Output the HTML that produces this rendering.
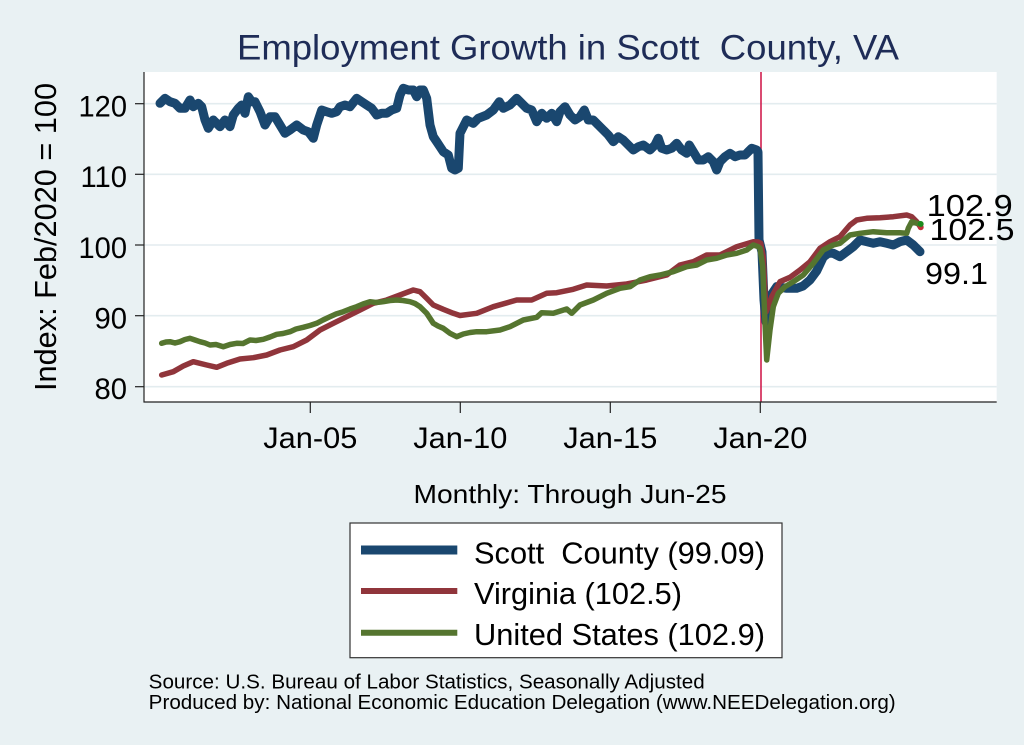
<!DOCTYPE html>
<html>
<head>
<meta charset="utf-8">
<style>
  html, body { margin: 0; padding: 0; background: #E9F1F3; }
  svg { display: block; }
  text { font-family: "Liberation Sans", Arial, sans-serif; }
</style>
</head>
<body>
<svg width="1024" height="745" viewBox="0 0 1024 745" xmlns="http://www.w3.org/2000/svg">
  <!-- outer background -->
  <rect x="0" y="0" width="1024" height="745" fill="#E9F1F3"/>
  <!-- plot region -->
  <rect x="144" y="72" width="852.7" height="330" fill="#FFFFFF"/>

  <!-- gridlines -->
  <g stroke="#E3ECEF" stroke-width="1.6">
    <line x1="144" y1="103.7" x2="996.7" y2="103.7"/>
    <line x1="144" y1="174.3" x2="996.7" y2="174.3"/>
    <line x1="144" y1="245" x2="996.7" y2="245"/>
    <line x1="144" y1="315.7" x2="996.7" y2="315.7"/>
    <line x1="144" y1="386.7" x2="996.7" y2="386.7"/>
  </g>

  <!-- vertical reference line -->
  <line x1="761" y1="72" x2="761" y2="402" stroke="#D11E4E" stroke-width="1.6"/>

  <!-- axes -->
  <g stroke="#222" stroke-width="1.2">
    <line x1="144" y1="72" x2="144" y2="402.5"/>
    <line x1="143.5" y1="402" x2="996.7" y2="402"/>
    <line x1="135" y1="103.7" x2="144" y2="103.7"/>
    <line x1="135" y1="174.3" x2="144" y2="174.3"/>
    <line x1="135" y1="245" x2="144" y2="245"/>
    <line x1="135" y1="315.7" x2="144" y2="315.7"/>
    <line x1="135" y1="386.7" x2="144" y2="386.7"/>
    <line x1="310.3" y1="402" x2="310.3" y2="413"/>
    <line x1="460.3" y1="402" x2="460.3" y2="413"/>
    <line x1="610.3" y1="402" x2="610.3" y2="413"/>
    <line x1="760.3" y1="402" x2="760.3" y2="413"/>
  </g>

  <!-- Scott County (blue) -->
  <polyline fill="none" stroke="#1A476F" stroke-width="9" stroke-linejoin="round" stroke-linecap="round"
    points="160,103.3 165,98.3 170,101.7 175,103.3 180,108.3 185,108.3 190,100 193.3,106.7 198.3,103.3 201.7,106.7 205,120 208.3,128.3 213.3,120 220,126.7 225,120 230,126.7 233.3,115 238.3,108.3 241.7,105 245,113.3 248.3,96.7 251.7,101.7 255,101.7 260,111.7 265,125 270,116.7 275,116.7 280,125 285,133.3 290,130 296.7,125 303.3,130 308.3,131.7 313.3,138.3 316.7,125 321.7,110 326.7,111.7 331.7,113.3 336.7,111.7 340,106.7 345,105 350,106.7 356.7,98.3 361.7,101.7 366.7,105 371.7,108.3 376.7,115 381.7,113.3 386.7,113.3 391.7,110 396.7,108.3 400,95 403.3,88.3 408.3,90 413.3,90 416.7,96.7 420,90 423.3,90 426.7,98.3 430,125 433.3,136.7 436.7,141.7 440,146.7 443.3,151.7 448.3,155 451.7,168.3 455,170 458.3,168.3 460,133.3 466.7,120 473.3,123.3 478.3,118.3 486.7,115 493.3,110 499.3,101.7 503.3,108.3 510,105 516.7,98.3 521.7,103.3 526.7,108.3 531.7,110 536.7,121.7 541.7,113.3 546.7,118.3 551.7,113.3 556.7,121.7 560,111.7 565,106.7 570,115 575,120 580,116.7 584.3,110 588.3,120 593.3,120 598.3,125 603.3,130 608.3,135 613.3,141.7 618.3,136.7 623.3,140 628.3,145 633.3,150 638.3,146.7 643.3,145 650,150 655,145 658.3,138.3 661.7,148.3 666.7,150 671.7,148.3 676.7,143.3 681.7,150 686.7,153.3 689.3,145 693.3,151.7 698.3,160 703.3,160 708.3,156.7 713.3,161.7 716.7,170 720,161.7 725,156.7 730,153.3 735,156.7 740,155 745,155 748.3,151.7 751.7,148.3 756.7,150 758,152 759,240 762,252 764,300 766,322 768,300 770,296.7 776.7,286.7 786.7,288.3 796.7,288.3 803,286 810,280 816.7,271 823.3,257 828.3,253.3 833.3,253.3 840,256.7 846.7,251.7 853.3,246.7 860,240 866.7,241.7 873.3,243.3 880,241.7 886.7,243.3 893.3,245 900,241.7 906.7,240 913.3,245 920,251.7"/>

  <!-- Virginia (red) -->
  <polyline fill="none" stroke="#90353B" stroke-width="5.5" stroke-linejoin="round" stroke-linecap="round"
    points="161.7,375 173.3,371.7 183.3,366 193.3,361.7 206.7,365 216.7,367.3 226.7,363.3 240,359 253.3,357.7 266.7,355 280,350 293.3,346.7 306.7,340 320,330 333.3,323.3 346.7,316.7 360,310 373.3,303.3 386.7,300 400,295 413.3,290 420,291.7 426.7,298.3 433.3,305 443.3,309.3 453.3,313.3 460,315.5 476.7,313.3 493.3,306.7 516.7,300 531.7,300 546.7,293.3 556.7,292.7 573.3,289.3 586.7,285 606.7,286 626.7,284 646.7,280 666.7,275 680,265 693.3,261.7 706.7,255 720,255 736.7,246.7 753.3,241.7 758.3,242 760.7,243.3 763.3,256.7 766,312 769,305 771.7,296.7 780,281.7 790,277.3 800,270 810,261.7 820,248.3 830,241.7 840,236.7 850,225 856.7,220 866.7,218.3 880,217.7 893.3,216.7 906.7,215 911.7,216.7 916.7,221.7 920.7,227.3"/>

  <!-- United States (green) -->
  <polyline fill="none" stroke="#55752F" stroke-width="5.5" stroke-linejoin="round" stroke-linecap="round"
    points="161.7,343.3 166,342 170,341.7 175,343 180,341.7 185,339.5 190,338.3 195,340 200,341.7 205,343 210,345 216,344.5 223.3,346.7 230,344.5 236.7,343.3 243,343.5 250,340 256,340.5 263.3,339.3 270,337 276.7,334.3 283,333.5 290,331.7 296,329 303.3,327.3 310,325.5 316.7,323.3 323,320 330,316.7 336,314 343.3,311.7 350,309 356.7,306.7 363,304 370,301.7 376,302.5 383.3,301.7 390,300.5 396.7,300 403,300.5 410,301.7 415,303.5 420,306.7 426.7,313.3 433.3,323.3 438,326 443.3,328.3 450,333.3 456.7,336.7 463.3,334 470,332.5 476.7,331.7 486.7,331.7 500,330 510,326.7 523.3,320 536.7,317.3 541.7,312.7 553.3,313.3 566.7,309 571.7,313.3 580,305 593.3,300 606.7,293.3 620,288.3 630,286.7 640,280 650,276.7 660,275 673.3,271.7 686.7,266.7 696.7,265 706.7,260 716.7,258.3 726.7,255 736.7,253.3 746.7,250 753.3,245 758.3,246.7 760,248.3 762.7,266.7 765,323.3 766.7,360 770,330 773.3,306.7 778.3,293.3 785,286.7 793.3,281.7 803.3,275 813.3,263.3 823.3,250 833.3,245 840,243.3 850,235 860,233.3 873.3,231.7 886.7,232.7 900,232.7 906.7,233.3 908.3,228.3 911.7,221.7 916.7,223.3 920.7,224"/>

  <!-- endpoint dots -->
  <circle cx="920.7" cy="227.3" r="3" fill="#C0303B"/>
  <circle cx="920.7" cy="224" r="3" fill="#1E8A1E"/>

  <!-- end labels -->
  <g font-size="30.5" fill="#000">
    <text x="926.7" y="216" textLength="86" lengthAdjust="spacingAndGlyphs">102.9</text>
    <text x="929.5" y="240" textLength="85" lengthAdjust="spacingAndGlyphs">102.5</text>
    <text x="925" y="284" textLength="63" lengthAdjust="spacingAndGlyphs">99.1</text>
  </g>

  <!-- y tick labels -->
  <g font-size="30" fill="#000" text-anchor="end">
    <text x="127" y="116.5" textLength="48.5" lengthAdjust="spacingAndGlyphs">120</text>
    <text x="127" y="187.2" textLength="46.5" lengthAdjust="spacingAndGlyphs">110</text>
    <text x="127" y="257.8" textLength="48.5" lengthAdjust="spacingAndGlyphs">100</text>
    <text x="127" y="328.5" textLength="32.5" lengthAdjust="spacingAndGlyphs">90</text>
    <text x="127" y="399" textLength="32.5" lengthAdjust="spacingAndGlyphs">80</text>
  </g>

  <!-- y axis title -->
  <text transform="translate(56,237) rotate(-90)" text-anchor="middle" font-size="30.5" fill="#000" textLength="308" lengthAdjust="spacingAndGlyphs">Index: Feb/2020 = 100</text>

  <!-- x tick labels -->
  <g font-size="30" fill="#000" text-anchor="middle">
    <text x="310.3" y="448" textLength="94" lengthAdjust="spacingAndGlyphs">Jan-05</text>
    <text x="460.3" y="448" textLength="94" lengthAdjust="spacingAndGlyphs">Jan-10</text>
    <text x="610.3" y="448" textLength="94" lengthAdjust="spacingAndGlyphs">Jan-15</text>
    <text x="760.3" y="448" textLength="94" lengthAdjust="spacingAndGlyphs">Jan-20</text>
  </g>

  <!-- x axis title -->
  <text x="570" y="503" text-anchor="middle" font-size="26" fill="#000" textLength="313" lengthAdjust="spacingAndGlyphs">Monthly: Through Jun-25</text>

  <!-- title -->
  <text x="568" y="59.5" text-anchor="middle" font-size="35.6" fill="#1E2C57" textLength="662" lengthAdjust="spacingAndGlyphs" xml:space="preserve">Employment Growth in Scott  County, VA</text>

  <!-- legend -->
  <rect x="350" y="523" width="432" height="134.7" fill="#FFFFFF" stroke="#333" stroke-width="1.2"/>
  <line x1="361" y1="550" x2="457.3" y2="550" stroke="#1A476F" stroke-width="9"/>
  <line x1="361" y1="591" x2="457.3" y2="591" stroke="#90353B" stroke-width="6"/>
  <line x1="361" y1="632.7" x2="457.3" y2="632.7" stroke="#55752F" stroke-width="6"/>
  <g font-size="30.5" fill="#000">
    <text x="474" y="563.3" textLength="291" lengthAdjust="spacingAndGlyphs" xml:space="preserve">Scott  County (99.09)</text>
    <text x="474" y="604" textLength="208" lengthAdjust="spacingAndGlyphs">Virginia (102.5)</text>
    <text x="474" y="645" textLength="291" lengthAdjust="spacingAndGlyphs">United States (102.9)</text>
  </g>

  <!-- footer -->
  <g font-size="20.5" fill="#000">
    <text x="148.7" y="688.5" textLength="556" lengthAdjust="spacingAndGlyphs">Source: U.S. Bureau of Labor Statistics, Seasonally Adjusted</text>
    <text x="148.7" y="709" textLength="747" lengthAdjust="spacingAndGlyphs">Produced by: National Economic Education Delegation (www.NEEDelegation.org)</text>
  </g>
</svg>
</body>
</html>
